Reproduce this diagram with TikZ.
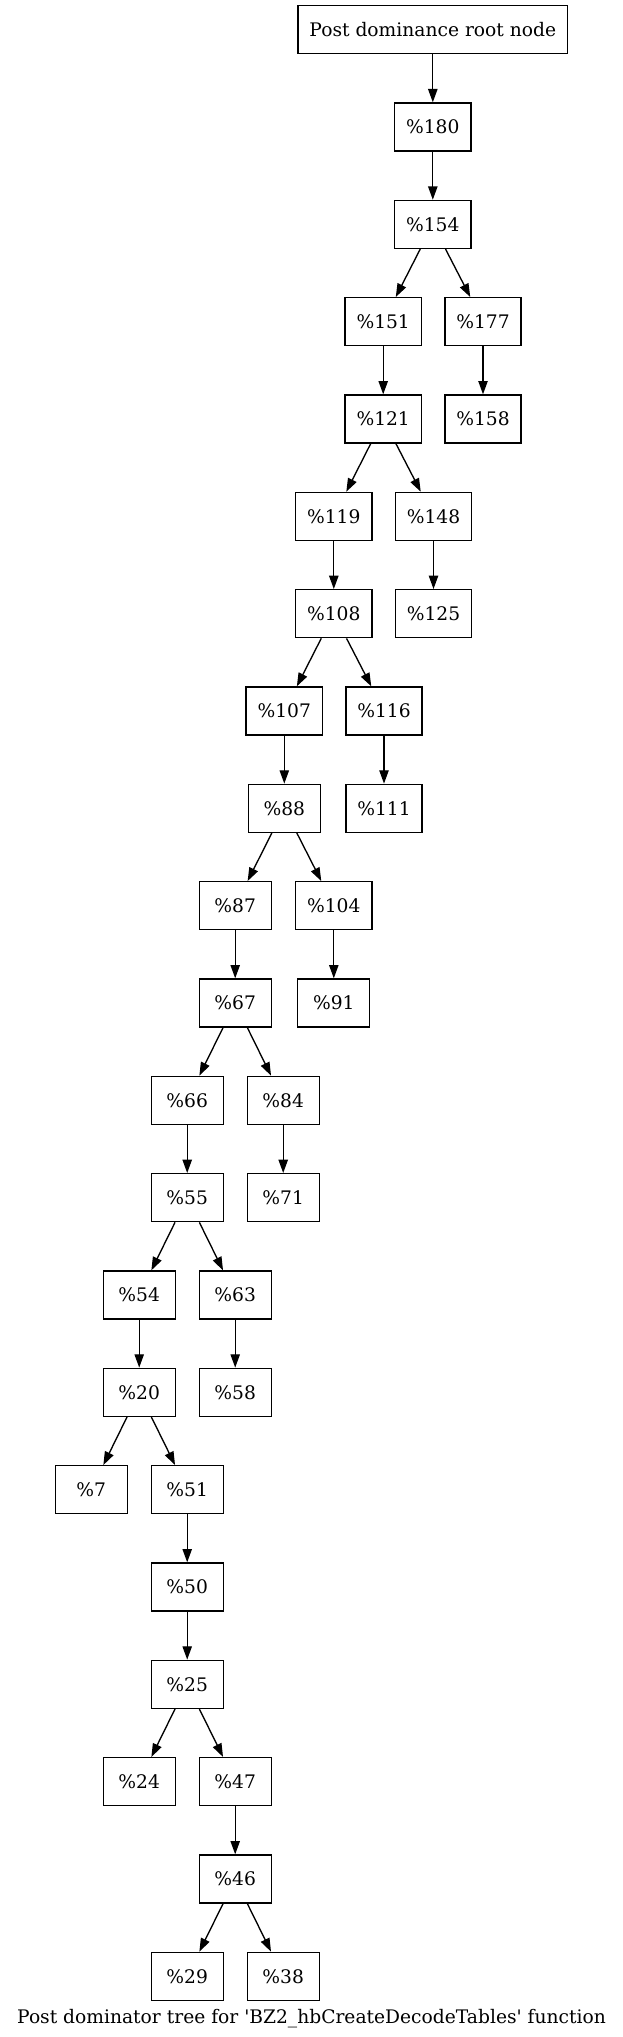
\documentclass[tikz,border=0pt]{standalone}
\usepackage{fontspec}
\setmainfont{DejaVu Serif}
\usetikzlibrary{arrows.meta}

\begin{document}
\begin{tikzpicture}
	[x=0.75pt, y=-0.75pt,
		containsText/.style	={font=\fontsize{14}{16.8}\selectfont
									},
		block/.style		={rectangle
									, containsText
									, draw
									, line width=1pt
									, minimum width=54pt
									, minimum height=36pt
									, inner xsep=8.6pt
									, inner ysep=0pt
									},
		line/.style		 	={draw
									, line width=1pt
									, -{Triangle[length=10pt,width=7pt]}
									},
		caption/.style		={containsText
									, inner sep=0pt
									}
	]
\useasboundingbox (0,0) rectangle (623,2037);

	% row 0
	\node [block] (root)	at (432.8,29.7)		{Post dominance root node};
	% row 1
	\node [block] (n180)	at (432.8,127.0)	{\%180};
	% row 2
	\node [block] (n154)	at (432.8,224.4)	{\%154};
	% row 3
	\node [block] (n151)	at (383.2,321.7)	{\%151};
	\node [block] (n177)	at (483.0,321.7)	{\%177};
	% row 4
	\node [block] (n121)	at (383.2,419.0)	{\%121};
	\node [block] (n158)	at (483.0,419.0)	{\%158};
	% row 5
	\node [block] (n119)	at (333.8,516.4)	{\%119};
	\node [block] (n148)	at (433.5,516.4)	{\%148};
	% row 6
	\node [block] (n108)	at (333.8,613.7)	{\%108};
	\node [block] (n125)	at (433.5,613.7)	{\%125};
	% row 7
	\node [block] (n107)	at (284.3,711.0)	{\%107};
	\node [block] (n116)	at (384.0,711.0)	{\%116};
	% row 8
	\node [block] (n88)		at (284.3,808.3)	{\%88};
	\node [block] (n111)	at (384.0,808.3)	{\%111};
	% row 9
	\node [block] (n87)		at (235.2,905.7)	{\%87};
	\node [block] (n104)	at (333.8,905.7)	{\%104};
	% row 10
	\node [block] (n67)		at (235.2,1003.0)	{\%67};
	\node [block] (n91)		at (333.8,1003.0)	{\%91};
	% row 11
	\node [block] (n66)		at (187.2,1100.3)	{\%66};
	\node [block] (n84)		at (283.2,1100.3)	{\%84};
	% row 12
	\node [block] (n55)		at (187.2,1197.7)	{\%55};
	\node [block] (n71)		at (283.2,1197.7)	{\%71};
	% row 13
	\node [block] (n54)		at (139.2,1295.0)	{\%54};
	\node [block] (n63)		at (235.2,1295.0)	{\%63};
	% row 14
	\node [block] (n20)		at (139.2,1392.3)	{\%20};
	\node [block] (n58)		at (235.2,1392.3)	{\%58};
	% row 15
	\node [block] (n7)		at (91.2,1489.7)	{\%7};
	\node [block] (n51)		at (187.2,1489.7)	{\%51};
	% row 16
	\node [block] (n50)		at (187.2,1587.0)	{\%50};
	% row 17
	\node [block] (n25)		at (187.2,1684.3)	{\%25};
	% row 18
	\node [block] (n24)		at (139.2,1781.6)	{\%24};
	\node [block] (n47)		at (235.2,1781.6)	{\%47};
	% row 19
	\node [block] (n46)		at (235.2,1879.0)	{\%46};
	% row 20
	\node [block] (n29)		at (187.2,1976.3)	{\%29};
	\node [block] (n38)		at (283.2,1976.3)	{\%38};

	\node [caption] (title)	at (311.5,2019)		{Post dominator tree for \textquotesingle BZ2\_hbCreateDecodeTables\textquotesingle{} function};

\begin{scope}[every path/.style=line]
	\path		(root)		-- (n180);
	\path		(n180)		-- (n154);
	\path		(n154)		-- (n151);
	\path		(n154)		-- (n177);
	\path		(n151)		-- (n121);
	\path		(n177)		-- (n158);
	\path		(n121)		-- (n119);
	\path		(n121)		-- (n148);
	\path		(n119)		-- (n108);
	\path		(n148)		-- (n125);
	\path		(n108)		-- (n107);
	\path		(n108)		-- (n116);
	\path		(n107)		-- (n88);
	\path		(n116)		-- (n111);
	\path		(n88)		-- (n87);
	\path		(n88)		-- (n104);
	\path		(n87)		-- (n67);
	\path		(n104)		-- (n91);
	\path		(n67)		-- (n66);
	\path		(n67)		-- (n84);
	\path		(n66)		-- (n55);
	\path		(n84)		-- (n71);
	\path		(n55)		-- (n54);
	\path		(n55)		-- (n63);
	\path		(n54)		-- (n20);
	\path		(n63)		-- (n58);
	\path		(n20)		-- (n7);
	\path		(n20)		-- (n51);
	\path		(n51)		-- (n50);
	\path		(n50)		-- (n25);
	\path		(n25)		-- (n24);
	\path		(n25)		-- (n47);
	\path		(n47)		-- (n46);
	\path		(n46)		-- (n29);
	\path		(n46)		-- (n38);
\end{scope}
\end{tikzpicture}
\end{document}
